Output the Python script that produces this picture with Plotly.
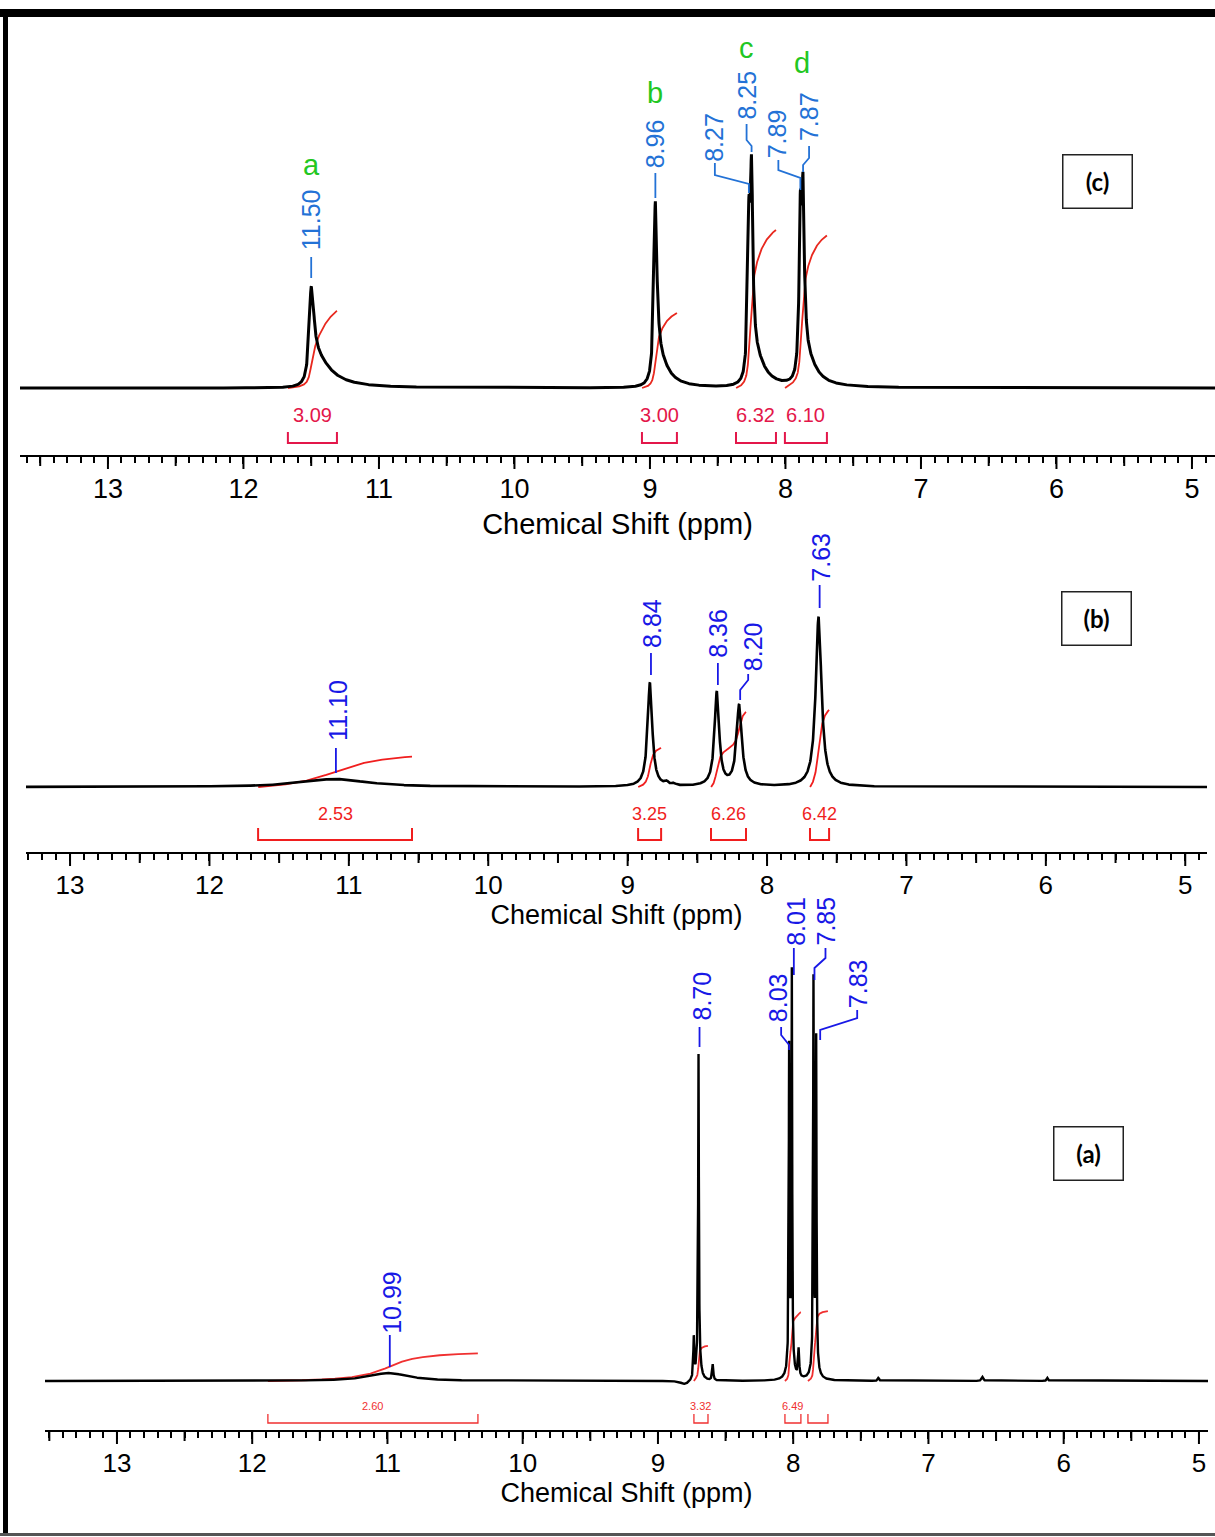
import numpy as np
import plotly.graph_objects as go

W, H = 1215, 1537
FONT = "Liberation Sans, Arial, sans-serif"

# ---------------- spectrum (c) ----------------
c_peak_ppm = [11.50, 8.96, 8.27, 8.25, 7.89, 7.87]
c_peak_height = [94, 180, 143, 192, 153, 171]
c_peak_fwhm = [0.037, 0.027, 0.022, 0.022, 0.022, 0.022]
# broad high-field skirts on the singlets / doublets
c_tail_ppm = [11.50, 8.96, 8.25, 7.87]
c_tail_height = [32, 28, 30, 28]
c_tail_fwhm = [0.266, 0.17, 0.17, 0.17]
c_shift_labels = [11.50, 8.96, 8.27, 8.25, 7.89, 7.87]
c_int_from = [11.672, 9.059, 8.365, 8.004]
c_int_to = [11.310, 8.801, 8.070, 7.694]
c_int_value = [3.09, 3.00, 6.32, 6.10]
c_int_text = ["3.09", "3.00", "6.32", "6.10"]
c_assign_ppm = [11.50, 8.96, 8.25, 7.87]
c_assign_text = ["a", "b", "c", "d"]

# ---------------- spectrum (b) ----------------
b_peak_ppm = [11.10, 8.84, 8.72, 8.67, 8.36, 8.20, 7.63]
b_peak_height = [8, 104, 3, 2, 94, 81, 170]
b_peak_fwhm = [0.55, 0.04, 0.03, 0.03, 0.04, 0.045, 0.05]
b_shift_labels = [11.10, 8.84, 8.36, 8.20, 7.63]
b_int_from = [11.651, 8.925, 8.402, 7.692]
b_int_to = [10.547, 8.760, 8.151, 7.555]
b_int_value = [2.53, 3.25, 6.26, 6.42]
b_int_text = ["2.53", "3.25", "6.26", "6.42"]

# ---------------- spectrum (a) ----------------
a_peak_ppm = [10.99, 8.80, 8.735, 8.70, 8.595, 8.03, 8.01, 7.96, 7.85, 7.83, 7.37, 6.60, 6.12]
a_peak_height = [8, -4, 40, 297, 16, 311, 386, 28, 379, 319, 3, 4, 3]
a_peak_fwhm = [0.35, 0.08, 0.008, 0.006, 0.01, 0.006, 0.006, 0.01, 0.006, 0.006, 0.012, 0.015, 0.012]
a_base_ppm = [8.70, 8.02, 7.84]
a_base_height = [30, 25, 25]
a_base_fwhm = [0.03, 0.04, 0.04]
a_shift_labels = [10.99, 8.70, 8.03, 8.01, 7.85, 7.83]
a_int_from = [11.884, 8.734, 8.061, 7.891]
a_int_to = [10.331, 8.630, 7.943, 7.743]
a_int_value = [2.60, 3.32, 6.49, 6.60]
a_int_text = ["2.60", "3.32", "6.49", ""]


def lorentz(x, p, h, fwhm):
    return h / (1.0 + ((x - p) / (fwhm / 2.0)) ** 2)


def skirt(x, p, h, fwhm):
    # one-sided broadening toward lower ppm
    p0 = p - 0.022
    hw = np.where(x < p0, fwhm / 2.0, 0.012)
    return h / (1.0 + ((x - p0) / hw) ** 2)


def build(x, ppm, hgt, fw, extra=None):
    y = np.zeros_like(x)
    for p, h, w in zip(ppm, hgt, fw):
        y += lorentz(x, p, h, w)
    if extra is not None:
        fn, ep, eh, ew = extra
        for p, h, w in zip(ep, eh, ew):
            y += fn(x, p, h, w)
    return y


# panel geometry in page pixels
panels = {
    "c": dict(xa="x", ya="y", xdom=(20, 1215), top=17, base=388, axis=455,
              xr=(13.649, 4.830), tick=27, title=29, tstand=10, lab=25, ilab=20, k=25.0,
              blue="#2372D6", red_c="#E8281E", red_t="#E3174A", lw=3.0,
              br=-55, brt=-44, il=-27),
    "b": dict(xa="x2", ya="y2", xdom=(26, 1207), top=545, base=787, axis=852,
              xr=(13.316, 4.844), tick=26, title=27, tstand=0, lab=25, ilab=18, k=12.0,
              blue="#1818E6", red_c="#F01E1E", red_t="#F01E1E", lw=2.6,
              br=-53, brt=-41, il=-27),
    "a": dict(xa="x3", ya="y3", xdom=(45, 1208), top=880, base=1381, axis=1430,
              xr=(13.532, 4.933), tick=26, title=27, tstand=2, lab=25, ilab=11, k=10.6,
              blue="#1818E6", red_c="#F03030", red_t="#F03030", lw=2.4,
              br=-42, brt=-33, il=-25),
}

# label placement: text offset (px), text centre height (px above baseline), leader polyline
label_pos = {
    "c": {11.50: (0, 168, [(0, 110), (0, 131)]),
          8.96: (0, 244, [(0, 190), (0, 215)]),
          8.27: (-35, 251, [(-34, 225), (-34, 213), (0, 204), (0, 195)]),
          8.25: (-5, 293, [(0, 236), (0, 242), (-5, 248), (-5, 264)]),
          7.89: (-23, 254, [(-22, 228), (-22, 218), (0, 210), (0, 198)]),
          7.87: (6, 271, [(0, 216), (0, 223), (6, 230), (6, 242)])},
    "b": {11.10: (3, 77, [(1, 14), (1, 39)]),
          8.84: (2, 164, [(1, 112), (1, 134)]),
          8.36: (1, 154, [(1, 102), (1, 124)]),
          8.20: (14, 140, [(1, 87), (1, 97), (9, 107), (9, 113)]),
          7.63: (2, 230, [(1, 179), (1, 202)])},
    "a": {10.99: (3, 79, [(1, 14), (1, 46)]),
          8.70: (3, 385, [(1, 334), (1, 354)]),
          8.03: (-11, 383, [(-8, 354), (-8, 346), (0, 336), (0, 331)]),
          8.01: (4, 460, [(2, 406), (2, 433)]),
          7.85: (13, 460, [(1, 401), (1, 413), (12, 423), (12, 433)]),
          7.83: (42, 397, [(41, 371), (41, 363), (4, 351), (4, 341)])},
}
assign_pos = {"a": (0, 223), "b": (0, 295), "c": (-5, 340), "d": (-1, 325)}

data = {
    "c": dict(step=0.001, peaks=(c_peak_ppm, c_peak_height, c_peak_fwhm),
              extra=(skirt, c_tail_ppm, c_tail_height, c_tail_fwhm),
              labels=c_shift_labels, ifrom=c_int_from, ito=c_int_to,
              ival=c_int_value, itext=c_int_text),
    "b": dict(step=0.001, peaks=(b_peak_ppm, b_peak_height, b_peak_fwhm), extra=None,
              labels=b_shift_labels, ifrom=b_int_from, ito=b_int_to,
              ival=b_int_value, itext=b_int_text),
    "a": dict(step=0.0005, peaks=(a_peak_ppm, a_peak_height, a_peak_fwhm),
              extra=(lorentz, a_base_ppm, a_base_height, a_base_fwhm),
              labels=a_shift_labels, ifrom=a_int_from, ito=a_int_to,
              ival=a_int_value, itext=a_int_text),
}

fig = go.Figure()
annotations = []
shapes = []
layout_axes = {}

for key in ["c", "b", "a"]:
    P = panels[key]
    D = data[key]
    xa, ya = P["xa"], P["ya"]
    scale = (P["xdom"][1] - P["xdom"][0]) / (P["xr"][0] - P["xr"][1])  # px per ppm

    x = np.arange(P["xr"][1] - 0.01, P["xr"][0] + 0.01, D["step"])
    y = build(x, *D["peaks"], extra=D["extra"])

    # integral curves
    for lo, hi, val in zip(D["ito"], D["ifrom"], D["ival"]):
        m = (x >= lo) & (x <= hi)
        xs = x[m][::-1]
        cs = np.cumsum(y[m][::-1])
        cs = (cs - cs[0]) / (cs[-1] - cs[0]) * val * P["k"]
        fig.add_trace(go.Scatter(x=xs, y=cs, mode="lines", xaxis=xa, yaxis=ya,
                                 line=dict(color=P["red_c"], width=1.8),
                                 hoverinfo="skip", showlegend=False))

    # spectrum
    fig.add_trace(go.Scatter(x=x, y=y, mode="lines", xaxis=xa, yaxis=ya,
                             line=dict(color="black", width=P["lw"]),
                             hoverinfo="skip", showlegend=False))

    # integral brackets and values
    bx, by = [], []
    for lo, hi, txt in zip(D["ito"], D["ifrom"], D["itext"]):
        bx += [hi, hi, lo, lo, None]
        by += [P["brt"], P["br"], P["br"], P["brt"], None]
        if txt:
            annotations.append(dict(x=(lo + hi) / 2, y=P["il"], xref=xa, yref=ya, text=txt,
                                    showarrow=False, xanchor="center", yanchor="middle",
                                    font=dict(family=FONT, size=P["ilab"], color=P["red_t"])))
    fig.add_trace(go.Scatter(x=bx, y=by, mode="lines", xaxis=xa, yaxis=ya,
                             line=dict(color=P["red_t"], width=2 if key != "a" else 1.3),
                             hoverinfo="skip", showlegend=False))

    # chemical-shift labels with leader lines
    lx, ly = [], []
    for ppm in D["labels"]:
        dx, ty, leader = label_pos[key][ppm]
        annotations.append(dict(x=ppm, y=ty, xref=xa, yref=ya, xshift=dx, text=f"{ppm:.2f}",
                                textangle=-90, showarrow=False, xanchor="center",
                                yanchor="middle",
                                font=dict(family=FONT, size=P["lab"], color=P["blue"])))
        for ddx, yy in leader:
            lx.append(ppm - ddx / scale)
            ly.append(yy)
        lx.append(None)
        ly.append(None)
    fig.add_trace(go.Scatter(x=lx, y=ly, mode="lines", xaxis=xa, yaxis=ya,
                             line=dict(color=P["blue"], width=1.8),
                             hoverinfo="skip", showlegend=False))

    # axes
    xd = [P["xdom"][0] / W, P["xdom"][1] / W]
    yd = [1 - P["axis"] / H, 1 - P["top"] / H]
    xname = "xaxis" if xa == "x" else "xaxis" + xa[1:]
    yname = "yaxis" if ya == "y" else "yaxis" + ya[1:]
    layout_axes[xname] = dict(
        domain=xd, range=list(P["xr"]), anchor=ya, showline=True, linecolor="black",
        linewidth=2, ticks="outside", ticklen=7, tickwidth=2, tickcolor="black",
        tick0=0, dtick=1, showgrid=False, zeroline=False, fixedrange=True,
        minor=dict(ticks="outside", ticklen=6, tickwidth=1.5, tickcolor="black",
                   tick0=0, dtick=0.1, showgrid=False),
        tickfont=dict(family=FONT, size=P["tick"], color="black"),
        ticklabelstandoff=2,
        title=dict(text="Chemical Shift (ppm)", standoff=P["tstand"],
                   font=dict(family=FONT, size=P["title"], color="black")),
    )
    layout_axes[yname] = dict(domain=yd, range=[-(P["axis"] - P["base"]), P["base"] - P["top"]],
                              visible=False, fixedrange=True)

    # whole-ppm (long) and half-ppm (medium) ticks
    for v in np.arange(5.0, 14.0, 0.5):
        if P["xr"][1] < v < P["xr"][0]:
            ln = 14 if float(v).is_integer() else 11
            shapes.append(dict(type="line", xref=xa, yref="paper", x0=v, x1=v,
                               y0=1 - P["axis"] / H, y1=1 - (P["axis"] + ln) / H,
                               line=dict(color="black", width=2)))

# assignment letters on spectrum (c)
for ppm, t in zip(c_assign_ppm, c_assign_text):
    dx, yy = assign_pos[t]
    annotations.append(dict(x=ppm, y=yy, xref="x", yref="y", xshift=dx, text=t, showarrow=False,
                            xanchor="center", yanchor="middle",
                            font=dict(family=FONT, size=29, color="#22C722")))

# panel tags
for t, cx, cy in [("(c)", 1097, 182), ("(b)", 1096, 618), ("(a)", 1088, 1153)]:
    annotations.append(dict(x=cx / W, y=1 - cy / H, xref="paper", yref="paper", text=f"<b>{t}</b>",
                            showarrow=False, xanchor="center", yanchor="middle", width=66, height=50,
                            bordercolor="#222", borderwidth=1.5, borderpad=1, bgcolor="white",
                            font=dict(family="Lato, Open Sans, sans-serif", size=24, color="black")))

# page frame
shapes += [
    dict(type="rect", xref="paper", yref="paper", x0=0, x1=1, y0=1 - 17 / H, y1=1 - 9 / H,
         fillcolor="black", line=dict(width=0)),
    dict(type="rect", xref="paper", yref="paper", x0=3 / W, x1=8 / W, y0=1 - 1535 / H, y1=1 - 9 / H,
         fillcolor="black", line=dict(width=0)),
    dict(type="rect", xref="paper", yref="paper", x0=0, x1=1, y0=1 - 1536 / H, y1=1 - 1533 / H,
         fillcolor="#555", line=dict(width=0)),
]

fig.update_layout(width=W, height=H, margin=dict(l=0, r=0, t=0, b=0),
                  paper_bgcolor="white", plot_bgcolor="white", showlegend=False,
                  annotations=annotations, shapes=shapes, **layout_axes)

fig.write_html("out.html", config={"displayModeBar": False})
